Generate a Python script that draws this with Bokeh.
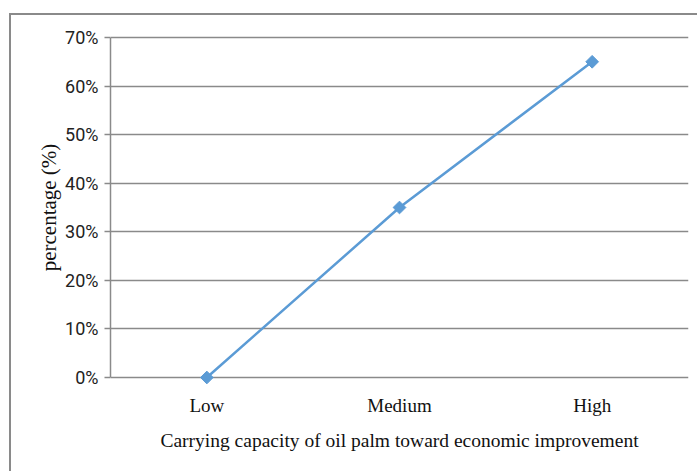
import math

from bokeh.plotting import figure
from bokeh.models import NumeralTickFormatter, FixedTicker
from bokeh.embed import file_html
from bokeh.resources import INLINE

# Share of respondents by perceived carrying capacity
categories = ["Low", "Medium", "High"]
percent = [0.0, 0.35, 0.65]
y_ticks = [0.0, 0.1, 0.2, 0.3, 0.4, 0.5, 0.6, 0.7]

GRID = "#8a8a8a"
LINE = "#5b9bd5"
SERIF = "Liberation Serif"

# equal room below 0% and above 70% so the baseline marker is not cut off
# while the axis title stays centred on the 0%..70% span
Y_TOP = 0.7
Y_PAD = Y_TOP * 14 / 340

p = figure(
    x_range=categories,
    y_range=(-Y_PAD, Y_TOP + Y_PAD),
    width=688,
    height=458,
    output_backend="svg",
    toolbar_location=None,
    min_border_left=99,
    min_border_right=11,
    min_border_top=8,
    min_border_bottom=82,
)
p.margin = (13, 0, 0, 9)
p.styles = {"border-left": "2px solid #8a8a8a", "border-top": "2px solid #8a8a8a"}
p.outline_line_color = None
p.background_fill_color = "white"
p.border_fill_color = "white"

p.line(categories, percent, line_color=LINE, line_width=2.5)
p.scatter(categories, percent, marker="square", angle=math.pi / 4, size=9,
          fill_color=LINE, line_color=LINE)

# y axis
p.yaxis.bounds = (0, Y_TOP)
p.yaxis.ticker = FixedTicker(ticks=y_ticks)
p.yaxis.formatter = NumeralTickFormatter(format="0%")
p.yaxis.axis_line_color = GRID
p.yaxis.axis_line_width = 1.5
p.yaxis.major_tick_line_color = GRID
p.yaxis.major_tick_line_width = 1.5
p.yaxis.major_tick_out = 6
p.yaxis.major_tick_in = 0
p.yaxis.minor_tick_line_color = None
p.yaxis.major_label_text_font = "Roboto"
p.yaxis.major_label_text_font_size = "18px"
p.yaxis.major_label_text_color = "#222222"
p.yaxis.major_label_standoff = 6
p.yaxis.axis_label = "percentage (%)"
p.yaxis.axis_label_text_font = SERIF
p.yaxis.axis_label_text_font_style = "normal"
p.yaxis.axis_label_text_font_size = "21px"
p.yaxis.axis_label_text_color = "#111111"
p.yaxis.axis_label_standoff = 1

# x axis
p.xaxis.axis_line_color = None
p.xaxis.major_tick_line_color = None
p.xaxis.major_tick_out = 0
p.xaxis.minor_tick_line_color = None
p.xaxis.major_label_text_font = SERIF
p.xaxis.major_label_text_font_size = "19px"
p.xaxis.major_label_text_color = "#111111"
p.xaxis.major_label_standoff = 3
p.xaxis.axis_label = "Carrying capacity of oil palm toward economic improvement"
p.xaxis.axis_label_text_font = SERIF
p.xaxis.axis_label_text_font_style = "normal"
p.xaxis.axis_label_text_font_size = "19.5px"
p.xaxis.axis_label_text_color = "#111111"
p.xaxis.axis_label_standoff = 11

p.xgrid.grid_line_color = None
p.ygrid.grid_line_color = GRID
p.ygrid.grid_line_width = 1.5

open("out.html", "w").write(file_html(p, INLINE))
